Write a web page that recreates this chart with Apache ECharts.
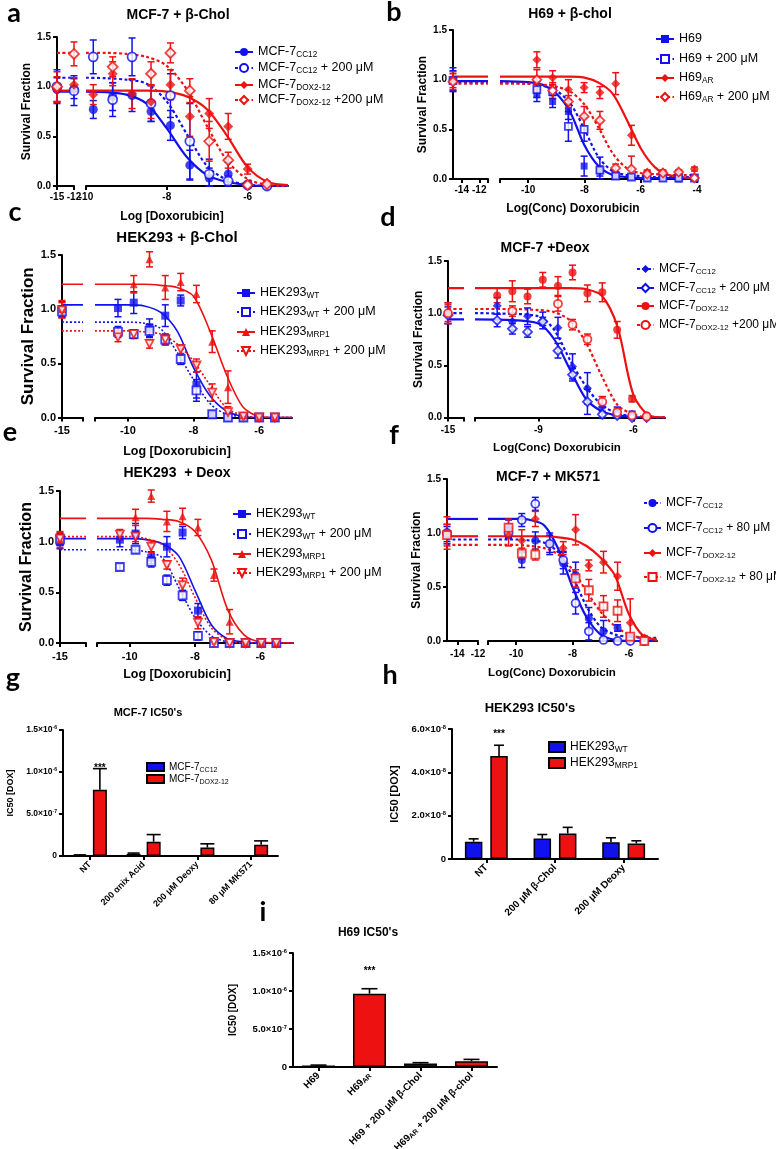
<!DOCTYPE html>
<html>
<head>
<meta charset="utf-8">
<title>Doxorubicin survival curves and IC50 panels</title>
<script src="https://cdn.jsdelivr.net/npm/echarts@6.0.0/dist/echarts.min.js"></script>
<style>
  body { margin: 0; background: #fff; }
  #page { position: relative; width: 776px; height: 1149px; }
  .layer { position: absolute; left: 0; top: 0; width: 776px; height: 1149px; }
</style>
</head>
<body>
<div id="page"></div>
<script>
// ---------- panel a: MCF-7 + β-Chol (log M doses, survival fraction) ----------
const aDose = [-9.82, -9.34, -8.86, -8.39, -7.91, -7.43, -6.95, -6.48, -6.0, -5.52];
const aCtrlDose = [-15, -12];
const aFitX = [-10, -9.5, -9, -8.5, -8, -7.5, -7, -6.5, -6, -5.5, -5];
const aCC12 = [0.77, 0.9, 0.91, 0.75, 0.61, 0.21, 0.08, 0.12, 0.01, 0.0];
const aCC12Err = [0.09, 0.14, 0.16, 0.1, 0.15, 0.15, 0.1, 0.12, 0.02, 0.01];
const aCC12Ctrl = [0.97, 0.98], aCC12CtrlErr = [0.12, 0.1];
const aCC12Fit = [0.95, 0.945, 0.92, 0.83, 0.58, 0.29, 0.11, 0.04, 0.01, 0.0, 0.0];
const aCC12b = [1.3, 0.87, 1.3, 0.83, 0.91, 0.45, 0.12, 0.05, 0.01, 0.0];
const aCC12bErr = [0.17, 0.17, 0.19, 0.18, 0.22, 0.38, 0.15, 0.05, 0.02, 0.01];
const aCC12bCtrl = [1.0, 0.96], aCC12bCtrlErr = [0.17, 0.15];
const aCC12bFit = [1.09, 1.085, 1.07, 1.03, 0.85, 0.52, 0.2, 0.06, 0.015, 0.0, 0.0];
const aDOX = [0.92, 1.13, 0.93, 0.85, 1.02, 0.7, 0.73, 0.6, 0.17, 0.03];
const aDOXErr = [0.1, 0.12, 0.15, 0.17, 0.15, 0.2, 0.15, 0.13, 0.05, 0.02];
const aDOXCtrl = [0.97, 1.02], aDOXCtrlErr = [0.13, 0.07];
const aDOXFit = [0.96, 0.96, 0.96, 0.96, 0.95, 0.9, 0.77, 0.5, 0.19, 0.04, 0.01];
const aDOXb = [null, 1.2, null, 1.13, 1.34, 0.96, 0.45, 0.26, 0.01, 0.02];
const aDOXbErr = [0, 0.1, 0, 0.12, 0.1, 0.12, 0.2, 0.08, 0.01, 0.01];
const aDOXbCtrl = [1.0, 1.33], aDOXbCtrlErr = [0.15, 0.12];
const aDOXbFit = [1.34, 1.34, 1.33, 1.3, 1.21, 0.97, 0.6, 0.25, 0.07, 0.01, 0.0];

// ---------- panel b: H69 + β-chol ----------
const bDose = [-9.69, -9.13, -8.57, -8.01, -7.45, -6.89, -6.33, -5.77, -5.21, -4.65, -4.09];
const bCtrlDose = [-15];
const bFitX = [-11, -10, -9.5, -9, -8.5, -8, -7.5, -7, -6.5, -6, -5.5, -5, -4];
const bH69 = [0.85, 0.78, 0.68, 0.13, 0.08, 0.04, 0.02, 0.01, 0.01, 0.0, 0.01];
const bH69Err = [0.07, 0.06, 0.08, 0.1, 0.05, 0.02, 0.01, 0.01, 0.01, 0.01, 0.01];
const bH69Ctrl = [1.0], bH69CtrlErr = [0.12];
const bH69Fit = [0.985, 0.975, 0.95, 0.86, 0.67, 0.34, 0.13, 0.04, 0.02, 0.01, 0.01, 0.01, 0.01];
const bH69b = [0.9, 0.88, 0.53, 0.5, 0.09, 0.03, 0.02, 0.01, 0.01, 0.01, 0.01];
const bH69bErr = [0.08, 0.07, 0.15, 0.12, 0.13, 0.03, 0.01, 0.01, 0.01, 0.01, 0.01];
const bH69bCtrl = [0.99], bH69bCtrlErr = [0.1];
const bH69bFit = [0.97, 0.96, 0.94, 0.89, 0.76, 0.5, 0.22, 0.08, 0.04, 0.03, 0.02, 0.02, 0.02];
const bAR = [1.2, 1.02, 0.9, 0.92, 0.87, 0.96, 0.44, 0.07, 0.07, 0.07, 0.1];
const bARErr = [0.08, 0.07, 0.1, 0.05, 0.06, 0.11, 0.1, 0.02, 0.02, 0.02, 0.02];
const bARCtrl = [1.0], bARCtrlErr = [0.08];
const bARFit = [1.03, 1.03, 1.03, 1.03, 1.03, 1.02, 0.97, 0.86, 0.6, 0.31, 0.12, 0.04, 0.005];
const bARb = [1.0, 0.89, 0.78, 0.63, 0.59, 0.11, 0.1, 0.05, 0.06, 0.07, 0.01];
const bARbErr = [0.1, 0.08, 0.06, 0.1, 0.09, 0.04, 0.13, 0.03, 0.02, 0.02, 0.01];
const bARbCtrl = [0.98], bARbCtrlErr = [0.08];
const bARbFit = [0.96, 0.96, 0.95, 0.93, 0.88, 0.75, 0.52, 0.26, 0.11, 0.06, 0.05, 0.04, 0.04];

// ---------- panel c: HEK293 + β-Chol ----------
const cDose = [-10.3, -9.82, -9.34, -8.86, -8.39, -7.91, -7.43, -6.95, -6.48, -6.0, -5.52];
const cCtrlDose = [-15];
const cFitX = [-11, -10, -9.5, -9, -8.5, -8, -7.5, -7, -6.5, -6, -5.5, -5];
const cWT = [1.01, 1.06, 0.83, 0.94, 1.08, 0.3, 0.03, 0.0, 0.0, 0.0, 0.0];
const cWTErr = [0.08, 0.1, 0.08, 0.1, 0.05, 0.12, 0.02, 0.01, 0.01, 0.01, 0.01];
const cWTCtrl = [1.0], cWTCtrlErr = [0.07];
const cWTFit = [1.04, 1.04, 1.03, 0.97, 0.8, 0.46, 0.2, 0.06, 0.01, 0.0, 0.0, 0.0];
const cWTb = [0.79, 0.77, 0.8, 0.72, 0.54, 0.25, 0.03, 0.0, 0.0, 0.0, 0.0];
const cWTbErr = [0.05, 0.04, 0.06, 0.05, 0.05, 0.1, 0.02, 0.01, 0.01, 0.01, 0.01];
const cWTbCtrl = [0.98], cWTbCtrlErr = [0.05];
const cWTbFit = [0.88, 0.88, 0.87, 0.82, 0.6, 0.35, 0.13, 0.03, 0.01, 0.0, 0.0, 0.0];
const cMRP1 = [null, 1.23, 1.46, 1.2, 1.25, 1.14, 0.7, 0.28, 0.02, 0.0, 0.0];
const cMRP1Err = [0, 0.08, 0.07, 0.11, 0.08, 0.08, 0.1, 0.15, 0.02, 0.01, 0.01];
const cMRP1Ctrl = [1.0], cMRP1CtrlErr = [0.08];
const cMRP1Fit = [1.23, 1.23, 1.23, 1.22, 1.2, 1.12, 0.8, 0.4, 0.1, 0.01, 0.0, 0.0];
const cMRP1b = [0.74, 0.77, 0.68, 0.72, 0.63, 0.48, 0.23, 0.05, 0.01, 0.0, 0.0];
const cMRP1bErr = [0.04, 0.04, 0.04, 0.05, 0.04, 0.06, 0.08, 0.05, 0.02, 0.01, 0.01];
const cMRP1bCtrl = [0.99], cMRP1bCtrlErr = [0.07];
const cMRP1bFit = [0.8, 0.8, 0.79, 0.77, 0.68, 0.52, 0.3, 0.09, 0.02, 0.0, 0.0, 0.0];

// ---------- panel d: MCF-7 + Deox ----------
const dDose = [-10.3, -9.82, -9.34, -8.86, -8.38, -7.92, -7.45, -6.98, -6.51, -6.04, -5.58];
const dCtrlDose = [-15];
const dFitX = [-11, -10, -9, -8.5, -8, -7.5, -7, -6.5, -6, -5.5, -5];
const dCC12 = [1.07, 0.92, 0.97, 0.93, 0.86, 0.49, 0.28, 0.1, 0.05, 0.03, 0.01];
const dCC12Err = [0.08, 0.08, 0.08, 0.08, 0.1, 0.12, 0.15, 0.1, 0.05, 0.03, 0.02];
const dCC12Ctrl = [1.0], dCC12CtrlErr = [0.1];
const dCC12Fit = [1.0, 0.995, 0.97, 0.84, 0.55, 0.3, 0.12, 0.04, 0.01, 0.0, 0.0];
const dCC12b = [0.93, 0.85, 0.82, 0.92, 0.64, 0.41, 0.15, 0.03, 0.02, 0.0, 0.0];
const dCC12bErr = [0.06, 0.05, 0.05, 0.04, 0.07, 0.06, 0.12, 0.03, 0.02, 0.01, 0.01];
const dCC12bCtrl = [0.98], dCC12bCtrlErr = [0.08];
const dCC12bFit = [0.94, 0.935, 0.9, 0.75, 0.46, 0.18, 0.06, 0.02, 0.005, 0.0, 0.0];
const dDOX = [1.17, 1.21, 1.16, 1.32, 1.26, 1.39, 1.19, 1.2, 0.84, 0.18, 0.02];
const dDOXErr = [0.07, 0.1, 0.07, 0.07, 0.09, 0.07, 0.08, 0.09, 0.08, 0.03, 0.01];
const dDOXCtrl = [1.0], dDOXCtrlErr = [0.1];
const dDOXFit = [1.24, 1.24, 1.24, 1.24, 1.24, 1.23, 1.17, 0.87, 0.22, 0.02, 0.0];
const dDOXb = [null, 1.02, null, null, 1.09, 0.89, 0.75, 0.15, 0.05, 0.02, 0.01];
const dDOXbErr = [0, 0.05, 0, 0, 0.07, 0.05, 0.05, 0.05, 0.03, 0.01, 0.01];
const dDOXbCtrl = [1.0], dDOXbCtrlErr = [0.08];
const dDOXbFit = [1.04, 1.04, 1.03, 1.01, 0.93, 0.72, 0.4, 0.12, 0.03, 0.0, 0.0];

// ---------- panel e: HEK293 + Deox ----------
const eDose = [-10.3, -9.82, -9.34, -8.86, -8.38, -7.91, -7.42, -6.94, -6.45, -5.97, -5.51];
const eCtrlDose = [-15];
const eFitX = [-11, -10, -9.5, -9, -8.5, -8, -7.5, -7, -6.5, -6, -5];
const eWT = [1.02, 1.08, 0.84, 0.95, 1.09, 0.32, 0.02, 0.0, 0.0, 0.0, 0.0];
const eWTErr = [0.07, 0.1, 0.06, 0.1, 0.06, 0.07, 0.02, 0.01, 0.01, 0.01, 0.01];
const eWTCtrl = [1.0], eWTCtrlErr = [0.07];
const eWTFit = [1.03, 1.03, 1.02, 0.98, 0.86, 0.52, 0.18, 0.04, 0.01, 0.0, 0.0];
const eWTb = [0.75, 0.92, 0.8, 0.62, 0.47, 0.07, 0.0, 0.0, 0.0, 0.0, 0.0];
const eWTbErr = [0.03, 0.03, 0.05, 0.05, 0.05, 0.04, 0.01, 0.01, 0.01, 0.01, 0.01];
const eWTbCtrl = [1.02], eWTbCtrlErr = [0.06];
const eWTbFit = [0.92, 0.92, 0.9, 0.84, 0.55, 0.25, 0.07, 0.01, 0.0, 0.0, 0.0];
const eMRP1 = [null, 1.24, 1.45, 1.2, 1.25, 1.14, 0.67, 0.21, 0.0, 0.0, 0.0];
const eMRP1Err = [0, 0.08, 0.06, 0.1, 0.08, 0.08, 0.06, 0.12, 0.01, 0.01, 0.01];
const eMRP1Ctrl = [1.02], eMRP1CtrlErr = [0.08];
const eMRP1Fit = [1.23, 1.23, 1.23, 1.22, 1.2, 1.1, 0.82, 0.33, 0.08, 0.01, 0.0];
const eMRP1b = [1.07, 1.05, 0.95, 0.77, 0.57, 0.2, 0.01, 0.0, 0.0, 0.0, 0.0];
const eMRP1bErr = [0.05, 0.05, 0.06, 0.04, 0.07, 0.06, 0.01, 0.01, 0.01, 0.01, 0.01];
const eMRP1bCtrl = [1.03], eMRP1bCtrlErr = [0.06];
const eMRP1bFit = [1.05, 1.05, 1.03, 0.97, 0.78, 0.45, 0.15, 0.03, 0.0, 0.0, 0.0];

// ---------- panel f: MCF-7 + MK571 ----------
const fDose = [-10.27, -9.8, -9.32, -8.81, -8.33, -7.89, -7.42, -6.9, -6.4, -5.95, -5.45];
const fCtrlDose = [-15];
const fFitX = [-11, -10, -9.5, -9, -8.5, -8, -7.5, -7, -6.5, -6, -5.5, -5];
const fCC12 = [1.04, 0.75, 0.93, 0.9, 0.72, 0.61, 0.21, 0.09, 0.12, 0.02, 0.01];
const fCC12Err = [0.08, 0.07, 0.08, 0.1, 0.1, 0.12, 0.1, 0.1, 0.03, 0.02, 0.01];
const fCC12Ctrl = [0.98], fCC12CtrlErr = [0.08];
const fCC12Fit = [0.94, 0.94, 0.93, 0.91, 0.82, 0.6, 0.32, 0.13, 0.06, 0.04, 0.03, 0.03];
const fCC12b = [1.0, 1.12, 1.27, 0.9, 0.75, 0.35, 0.09, 0.01, 0.0, 0.0, 0.0];
const fCC12bErr = [0.05, 0.06, 0.06, 0.08, 0.08, 0.1, 0.08, 0.02, 0.01, 0.01, 0.01];
const fCC12bCtrl = [1.0], fCC12bCtrlErr = [0.08];
const fCC12bFit = [1.13, 1.13, 1.12, 1.07, 0.85, 0.5, 0.22, 0.06, 0.01, 0.0, 0.0, 0.0];
const fDOX = [0.98, 0.93, 1.13, null, 0.86, 1.03, 0.7, 0.73, 0.6, 0.17, 0.03];
const fDOXErr = [0.1, 0.1, 0.07, 0, 0.06, 0.14, 0.05, 0.1, 0.13, 0.22, 0.02];
const fDOXCtrl = [1.0], fDOXCtrlErr = [0.15];
const fDOXFit = [0.97, 0.97, 0.97, 0.97, 0.96, 0.94, 0.88, 0.77, 0.61, 0.25, 0.05, 0.01];
const fDOXb = [1.05, 0.81, 0.8, null, null, 0.58, 0.47, 0.32, 0.28, 0.04, 0.0];
const fDOXbErr = [0.08, 0.05, 0.05, 0, 0, 0.08, 0.1, 0.1, 0.1, 0.02, 0.01];
const fDOXbCtrl = [0.98], fDOXbCtrlErr = [0.1];
const fDOXbFit = [0.89, 0.89, 0.88, 0.86, 0.8, 0.66, 0.46, 0.27, 0.14, 0.06, 0.03, 0.02];

// ---------- panels g, h, i: IC50 bars (M) ----------
const gCats = ['NT', '200 \u03b1nix Acid', '200 \u03bcM Deoxy', '80 \u03bcM MK571'];
const gCC12 = [1.0e-8, 2.5e-8, 5e-9, 5e-9];
const gCC12Err = [3e-9, 1e-8, 0, 0];
const gDOX = [7.9e-7, 1.7e-7, 1.0e-7, 1.35e-7];
const gDOXErr = [2.5e-7, 0.85e-7, 0.45e-7, 0.45e-7];
const gStars = ['***', '', '', ''];

const hCats = ['NT', '200 \u03bcM \u03b2-Chol', '200 \u03bcM Deoxy'];
const hWT = [0.8e-8, 0.95e-8, 0.77e-8];
const hWTErr = [0.13e-8, 0.18e-8, 0.21e-8];
const hMRP1 = [4.75e-8, 1.18e-8, 0.72e-8];
const hMRP1Err = [0.5e-8, 0.28e-8, 0.12e-8];
const hStars = ['***', '', ''];

const iCats = ['H69', 'H69{s|AR}', 'H69 + 200 \u03bcM \u03b2-Chol', 'H69{s|AR} + 200 \u03bcM \u03b2-chol'];
const iVal = [2.0e-8, 9.65e-7, 4.5e-8, 7.5e-8];
const iErr = [5e-9, 6.5e-8, 1.2e-8, 2.5e-8];
const iStars = ['', '***', '', ''];

// ---------- drawing ----------
const BLUE = '#1111ee', RED = '#ee1111', INK = '#000';
const ARIAL = '"Liberation Sans", Arial, Helvetica, sans-serif';
const LETTER = 'bold 27px Lato, "Open Sans", sans-serif';

function mount() {
  const d = document.createElement('div');
  d.className = 'layer';
  document.getElementById('page').appendChild(d);
  return echarts.init(d);
}

function pts(xs, ys, es) {
  const out = [];
  xs.forEach((x, i) => { if (ys[i] != null) out.push([x, ys[i], es[i]]); });
  return out;
}

function texts(list) {
  return list.map(t => ({
    type: 'text', x: t[0], y: t[1], silent: true,
    style: { text: t[2], font: t[3], fill: INK, align: 'center', verticalAlign: 'middle' }
  }));
}

function errRender(cap) {
  return (params, api) => {
    const x = api.value(0), y = api.value(1), e = api.value(2);
    const hi = api.coord([x, y + e]);
    const lo = api.coord([x, Math.max(0, y - e)]);
    const st = { stroke: api.visual('color'), lineWidth: 1.5 };
    return { type: 'group', children: [
      { type: 'line', shape: { x1: lo[0], y1: lo[1], x2: hi[0], y2: hi[1] }, style: st },
      { type: 'line', shape: { x1: hi[0] - cap, y1: hi[1], x2: hi[0] + cap, y2: hi[1] }, style: st },
      { type: 'line', shape: { x1: lo[0] - cap, y1: lo[1], x2: lo[0] + cap, y2: lo[1] }, style: st }
    ] };
  };
}

function legendRows(L, names, rich) {
  return names.map((n, i) => ({
    data: [n], left: L.legX, top: L.legY[i] - 7, padding: 0, itemGap: 0,
    itemWidth: L.legW, itemHeight: L.legH || 10, selectedMode: false, icon: L.legIcon,
    formatter: v => v,
    textStyle: { color: INK, fontFamily: ARIAL, fontSize: L.legFont, lineHeight: 14, rich: rich }
  }));
}

function subRich(size) {
  return { s: { fontSize: size, fontFamily: ARIAL, color: INK, lineHeight: 8, verticalAlign: 'bottom' } };
}

function xAxisOf(g, ax, L) {
  return {
    gridIndex: g, type: 'value', min: ax.min, max: ax.max,
    axisLine: { show: true, onZero: false, lineStyle: { color: INK, width: 2 } },
    axisTick: { show: true, inside: false, length: 4, lineStyle: { color: INK, width: 2 }, customValues: ax.ticks },
    axisLabel: { show: true, customValues: ax.labels, formatter: v => String(v), color: INK,
      fontFamily: ARIAL, fontWeight: 'bold', fontSize: L.tf, margin: L.xm },
    splitLine: { show: false }
  };
}

function dosePanel(L, dose, ctrlDose, fitX, sets) {
  const chart = mount();
  const series = [];
  sets.forEach(s => {
    const item = s.open ? { color: '#fff', borderColor: s.color, borderWidth: 1.8 } : { color: s.color };
    const line = {
      type: 'line', smooth: 0.3, showSymbol: false, symbol: s.symbol, symbolRotate: s.rot || 0,
      silent: true, z: 2, itemStyle: item,
      lineStyle: { color: s.color, width: L.lw, type: s.dash ? L.dash : 'solid' }
    };
    series.push(Object.assign({}, line, { name: s.name, xAxisIndex: 1, yAxisIndex: 1,
      data: fitX.map((x, i) => [x, s.fit[i]]) }));
    series.push(Object.assign({}, line, { xAxisIndex: 0, yAxisIndex: 0,
      data: [[L.xl.min, s.fit[0]], [L.xl.max, s.fit[0]]] }));
    [[0, ctrlDose, s.ctrl, s.ctrlErr], [1, dose, s.y, s.err]].forEach(([g, xs, ys, es]) => {
      const d = pts(xs, ys, es);
      series.push({ type: 'custom', xAxisIndex: g, yAxisIndex: g, silent: true, z: 3,
        itemStyle: { color: s.color }, encode: { x: 0, y: 1 }, data: d, renderItem: errRender(L.cap) });
      series.push({ type: 'scatter', xAxisIndex: g, yAxisIndex: g, silent: true, z: 4,
        symbol: s.symbol, symbolRotate: s.rot || 0, symbolSize: s.size,
        itemStyle: item, data: d.map(p => [p[0], p[1]]) });
    });
  });
  chart.setOption({
    animation: false,
    grid: [
      { left: L.xl.left, width: L.xl.width, top: L.top, height: L.h, containLabel: false, outerBoundsMode: 'none' },
      { left: L.xr.left, width: L.xr.width, top: L.top, height: L.h, containLabel: false, outerBoundsMode: 'none' }
    ],
    xAxis: [xAxisOf(0, L.xl, L), xAxisOf(1, L.xr, L)],
    yAxis: [{
      gridIndex: 0, type: 'value', min: 0, max: 1.5, interval: 0.5,
      axisLine: { show: true, lineStyle: { color: INK, width: 2 } },
      axisTick: { show: true, length: 4, lineStyle: { color: INK, width: 2 } },
      axisLabel: { color: INK, fontFamily: ARIAL, fontWeight: 'bold', fontSize: L.tf, margin: 6,
        formatter: v => v.toFixed(1) },
      splitLine: { show: false },
      name: 'Survival Fraction', nameLocation: 'middle', nameGap: L.yGap,
      nameTextStyle: { color: INK, fontFamily: ARIAL, fontWeight: 'bold', fontSize: L.yf }
    }, { gridIndex: 1, type: 'value', min: 0, max: 1.5, show: false }],
    legend: legendRows(L, sets.map(s => s.name), subRich(L.legFont * 0.66)),
    graphic: texts(L.texts),
    series: series
  });
}

function sci(v) {
  if (v === 0) return '0';
  const e = Math.floor(Math.log10(v) + 1e-9);
  return (v / Math.pow(10, e)).toFixed(1) + '\u00d710{p|' + e + '}';
}

function barErr(vals, errs, off, cap, stars, starGap) {
  return {
    type: 'custom', silent: true, z: 5, encode: { x: 0, y: 1 },
    data: vals.map((v, i) => [i, v, errs[i]]),
    renderItem: (params, api) => {
      const c = api.value(0), v = api.value(1), e = api.value(2);
      const base = api.coord([c, v]), top = api.coord([c, v + e]);
      const x = base[0] + off;
      const st = { stroke: INK, lineWidth: 1.6 };
      const kids = [];
      if (e > 0) {
        kids.push({ type: 'line', shape: { x1: x, y1: base[1], x2: x, y2: top[1] }, style: st });
        kids.push({ type: 'line', shape: { x1: x - cap, y1: top[1], x2: x + cap, y2: top[1] }, style: st });
      }
      const star = stars[params.dataIndex];
      if (star) {
        kids.push({ type: 'text', x: x, y: top[1] - starGap,
          style: { text: star, font: 'bold 10px ' + ARIAL, fill: INK, align: 'center', verticalAlign: 'bottom' } });
      }
      return { type: 'group', children: kids };
    }
  };
}

function barPanel(L, cats, bars, errs, legendNames) {
  const chart = mount();
  const option = {
    animation: false,
    grid: { left: L.left, top: L.top, width: L.width, height: L.h, containLabel: false, outerBoundsMode: 'none' },
    xAxis: {
      type: 'category', data: cats,
      axisLine: { show: true, lineStyle: { color: INK, width: 2 } },
      axisTick: { show: true, alignWithLabel: true, length: 4, lineStyle: { color: INK, width: 2 } },
      axisLabel: { rotate: 45, interval: 0, color: INK, fontFamily: ARIAL, fontWeight: 'bold',
        fontSize: L.xf, margin: 7, rich: subRich(L.xf * 0.7) }
    },
    yAxis: {
      type: 'value', min: 0, max: L.max, interval: L.step,
      axisLine: { show: true, lineStyle: { color: INK, width: 2 } },
      axisTick: { show: true, length: 4, lineStyle: { color: INK, width: 2 } },
      axisLabel: { color: INK, fontFamily: ARIAL, fontWeight: 'bold', fontSize: L.tf, margin: 6, formatter: sci,
        rich: { p: { fontSize: L.tf * 0.6, fontFamily: ARIAL, fontWeight: 'bold', color: INK, lineHeight: 5, verticalAlign: 'top' } } },
      splitLine: { show: false },
      name: 'IC50 [DOX]', nameLocation: 'middle', nameGap: L.yGap,
      nameTextStyle: { color: INK, fontFamily: ARIAL, fontWeight: 'bold', fontSize: L.yf }
    },
    graphic: texts(L.texts),
    series: bars.concat(errs)
  };
  if (legendNames) option.legend = legendRows(L, legendNames, subRich(L.legFont * 0.7));
  chart.setOption(option);
}

// panel a
dosePanel({
  top: 37, h: 149, tf: 10, xm: 6, yf: 12, yGap: 24, lw: 2.2, dash: [3, 2.5], cap: 3.5,
  xl: { left: 57, width: 17, min: -15, max: -12, ticks: [-15, -12], labels: [-15, -12] },
  xr: { left: 86, width: 202, min: -10, max: -5, ticks: [-10, -8, -6], labels: [-10, -8, -6] },
  legX: 234, legW: 18, legFont: 12.5, legY: [52, 68, 85, 100],
  texts: [[14, 13, 'a', LETTER], [178, 15, 'MCF-7 + \u03b2-Chol', 'bold 14px ' + ARIAL],
          [172, 217, 'Log [Doxorubicin]', 'bold 12px ' + ARIAL]]
}, aDose, aCtrlDose, aFitX, [
  { name: 'MCF-7{s|CC12}', color: BLUE, symbol: 'circle', size: 9, y: aCC12, err: aCC12Err, ctrl: aCC12Ctrl, ctrlErr: aCC12CtrlErr, fit: aCC12Fit },
  { name: 'MCF-7{s|CC12} + 200 \u03bcM', color: BLUE, symbol: 'circle', size: 9, open: true, dash: true, y: aCC12b, err: aCC12bErr, ctrl: aCC12bCtrl, ctrlErr: aCC12bCtrlErr, fit: aCC12bFit },
  { name: 'MCF-7{s|DOX2-12}', color: RED, symbol: 'diamond', size: 10, y: aDOX, err: aDOXErr, ctrl: aDOXCtrl, ctrlErr: aDOXCtrlErr, fit: aDOXFit },
  { name: 'MCF-7{s|DOX2-12} +200 \u03bcM', color: RED, symbol: 'diamond', size: 10, open: true, dash: true, y: aDOXb, err: aDOXbErr, ctrl: aDOXbCtrl, ctrlErr: aDOXbCtrlErr, fit: aDOXbFit }
]);

// panel b
dosePanel({
  top: 30, h: 149, tf: 10, xm: 6, yf: 12, yGap: 24, lw: 2.2, dash: [3, 2.5], cap: 3.5,
  xl: { left: 453, width: 35, min: -15, max: -11, ticks: [-14, -12, -11], labels: [-14, -12] },
  xr: { left: 500, width: 197, min: -11, max: -4, ticks: [-11, -10, -8, -6, -4], labels: [-10, -8, -6, -4] },
  legX: 655, legW: 18, legFont: 12.5, legY: [39, 59, 78, 97],
  texts: [[394, 12, 'b', LETTER], [570, 14, 'H69 + \u03b2-chol', 'bold 14px ' + ARIAL],
          [573, 209, 'Log(Conc) Doxorubicin', 'bold 12px ' + ARIAL]]
}, bDose, bCtrlDose, bFitX, [
  { name: 'H69', color: BLUE, symbol: 'rect', size: 7, y: bH69, err: bH69Err, ctrl: bH69Ctrl, ctrlErr: bH69CtrlErr, fit: bH69Fit },
  { name: 'H69 + 200 \u03bcM', color: BLUE, symbol: 'rect', size: 7, open: true, dash: true, y: bH69b, err: bH69bErr, ctrl: bH69bCtrl, ctrlErr: bH69bCtrlErr, fit: bH69bFit },
  { name: 'H69{s|AR}', color: RED, symbol: 'diamond', size: 9, y: bAR, err: bARErr, ctrl: bARCtrl, ctrlErr: bARCtrlErr, fit: bARFit },
  { name: 'H69{s|AR} + 200 \u03bcM', color: RED, symbol: 'diamond', size: 9, open: true, dash: true, y: bARb, err: bARbErr, ctrl: bARbCtrl, ctrlErr: bARbCtrlErr, fit: bARbFit }
]);

// panel c
dosePanel({
  top: 255, h: 162.5, tf: 11, xm: 8, yf: 17, yGap: 24, lw: 1.6, dash: [2, 2], cap: 3.5,
  xl: { left: 62, width: 21, min: -15, max: -14.36, ticks: [-15, -14.36], labels: [-15] },
  xr: { left: 95, width: 197, min: -11, max: -5, ticks: [-11, -10, -8, -6], labels: [-10, -8, -6] },
  legX: 236, legW: 18, legFont: 12.5, legY: [293, 312, 332, 351],
  texts: [[15, 212, 'c', LETTER], [177, 238, 'HEK293 + \u03b2-Chol', 'bold 15px ' + ARIAL],
          [177, 452, 'Log [Doxorubicin]', 'bold 12.5px ' + ARIAL]]
}, cDose, cCtrlDose, cFitX, [
  { name: 'HEK293{s|WT}', color: BLUE, symbol: 'rect', size: 8, y: cWT, err: cWTErr, ctrl: cWTCtrl, ctrlErr: cWTCtrlErr, fit: cWTFit },
  { name: 'HEK293{s|WT} + 200 \u03bcM', color: BLUE, symbol: 'rect', size: 8, open: true, dash: true, y: cWTb, err: cWTbErr, ctrl: cWTbCtrl, ctrlErr: cWTbCtrlErr, fit: cWTbFit },
  { name: 'HEK293{s|MRP1}', color: RED, symbol: 'triangle', size: 8, y: cMRP1, err: cMRP1Err, ctrl: cMRP1Ctrl, ctrlErr: cMRP1CtrlErr, fit: cMRP1Fit },
  { name: 'HEK293{s|MRP1} + 200 \u03bcM', color: RED, symbol: 'triangle', rot: 180, size: 8, open: true, dash: true, y: cMRP1b, err: cMRP1bErr, ctrl: cMRP1bCtrl, ctrlErr: cMRP1bCtrlErr, fit: cMRP1bFit }
]);

// panel d
dosePanel({
  top: 261, h: 156.5, tf: 10, xm: 8, yf: 12, yGap: 23, lw: 2.2, dash: [3, 2.5], cap: 3.5,
  xl: { left: 448, width: 16, min: -15, max: -14.5, ticks: [-15, -14.5], labels: [-15] },
  xr: { left: 475, width: 190, min: -11, max: -5, ticks: [-11, -9, -6], labels: [-9, -6] },
  legX: 636, legW: 17, legFont: 12, legY: [269, 288, 306, 325],
  texts: [[388, 217, 'd', LETTER], [545, 248, 'MCF-7 +Deox', 'bold 14px ' + ARIAL],
          [557, 448, 'Log(Conc) Doxorubicin', 'bold 11.5px ' + ARIAL]]
}, dDose, dCtrlDose, dFitX, [
  { name: 'MCF-7{s|CC12}', color: BLUE, symbol: 'diamond', size: 9, dash: true, y: dCC12, err: dCC12Err, ctrl: dCC12Ctrl, ctrlErr: dCC12CtrlErr, fit: dCC12Fit },
  { name: 'MCF-7{s|CC12} + 200 \u03bcM', color: BLUE, symbol: 'diamond', size: 9, open: true, y: dCC12b, err: dCC12bErr, ctrl: dCC12bCtrl, ctrlErr: dCC12bCtrlErr, fit: dCC12bFit },
  { name: 'MCF-7{s|DOX2-12}', color: RED, symbol: 'circle', size: 8, y: dDOX, err: dDOXErr, ctrl: dDOXCtrl, ctrlErr: dDOXCtrlErr, fit: dDOXFit },
  { name: 'MCF-7{s|DOX2-12} +200 \u03bcM', color: RED, symbol: 'circle', size: 8, open: true, dash: true, y: dDOXb, err: dDOXbErr, ctrl: dDOXbCtrl, ctrlErr: dDOXbCtrlErr, fit: dDOXbFit }
]);

// panel e
dosePanel({
  top: 491, h: 152, tf: 11, xm: 8, yf: 16, yGap: 25, lw: 1.6, dash: [2, 2], cap: 3.5,
  xl: { left: 60, width: 26, min: -15, max: -14.2, ticks: [-15, -14.2], labels: [-15] },
  xr: { left: 97, width: 196, min: -11, max: -5, ticks: [-11, -10, -8, -6], labels: [-10, -8, -6] },
  legX: 232, legW: 18, legFont: 12.5, legY: [514, 534, 554, 573],
  texts: [[10, 432, 'e', LETTER], [177, 473, 'HEK293  + Deox', 'bold 14px ' + ARIAL],
          [177, 675, 'Log [Doxorubicin]', 'bold 12.5px ' + ARIAL]]
}, eDose, eCtrlDose, eFitX, [
  { name: 'HEK293{s|WT}', color: BLUE, symbol: 'rect', size: 8, y: eWT, err: eWTErr, ctrl: eWTCtrl, ctrlErr: eWTCtrlErr, fit: eWTFit },
  { name: 'HEK293{s|WT} + 200 \u03bcM', color: BLUE, symbol: 'rect', size: 8, open: true, dash: true, y: eWTb, err: eWTbErr, ctrl: eWTbCtrl, ctrlErr: eWTbCtrlErr, fit: eWTbFit },
  { name: 'HEK293{s|MRP1}', color: RED, symbol: 'triangle', size: 8, y: eMRP1, err: eMRP1Err, ctrl: eMRP1Ctrl, ctrlErr: eMRP1CtrlErr, fit: eMRP1Fit },
  { name: 'HEK293{s|MRP1} + 200 \u03bcM', color: RED, symbol: 'triangle', rot: 180, size: 8, open: true, dash: true, y: eMRP1b, err: eMRP1bErr, ctrl: eMRP1bCtrl, ctrlErr: eMRP1bCtrlErr, fit: eMRP1bFit }
]);

// panel f
dosePanel({
  top: 479, h: 162, tf: 10, xm: 8, yf: 12, yGap: 24, lw: 2.2, dash: [3, 2.5], cap: 3.5,
  xl: { left: 447, width: 31, min: -15, max: -12, ticks: [-14, -12], labels: [-14, -12] },
  xr: { left: 488, width: 169, min: -11, max: -5, ticks: [-11, -10, -8, -6], labels: [-10, -8, -6] },
  legX: 643, legW: 17, legFont: 12, legY: [503, 528, 553, 577],
  texts: [[394, 435, 'f', LETTER], [548, 477, 'MCF-7 + MK571', 'bold 14px ' + ARIAL],
          [552, 673, 'Log(Conc) Doxorubicin', 'bold 11.5px ' + ARIAL]]
}, fDose, fCtrlDose, fFitX, [
  { name: 'MCF-7{s|CC12}', color: BLUE, symbol: 'circle', size: 8, dash: true, y: fCC12, err: fCC12Err, ctrl: fCC12Ctrl, ctrlErr: fCC12CtrlErr, fit: fCC12Fit },
  { name: 'MCF-7{s|CC12} + 80 \u03bcM', color: BLUE, symbol: 'circle', size: 8, open: true, y: fCC12b, err: fCC12bErr, ctrl: fCC12bCtrl, ctrlErr: fCC12bCtrlErr, fit: fCC12bFit },
  { name: 'MCF-7{s|DOX2-12}', color: RED, symbol: 'diamond', size: 9, y: fDOX, err: fDOXErr, ctrl: fDOXCtrl, ctrlErr: fDOXCtrlErr, fit: fDOXFit },
  { name: 'MCF-7{s|DOX2-12} + 80 \u03bcM', color: RED, symbol: 'rect', size: 8, open: true, dash: true, y: fDOXb, err: fDOXbErr, ctrl: fDOXbCtrl, ctrlErr: fDOXbCtrlErr, fit: fDOXbFit }
]);

// panel g
barPanel({
  left: 63, top: 730, width: 215, h: 126, max: 1.5e-6, step: 5e-7, tf: 8.5, xf: 9, yf: 9, yGap: 48,
  legX: 146, legW: 17, legH: 8, legFont: 10, legY: [767, 779], legIcon: 'rect',
  texts: [[13, 678, 'g', LETTER], [148, 713, "MCF-7 IC50's", 'bold 11px ' + ARIAL]]
}, gCats, [
  { type: 'bar', name: 'MCF-7{s|CC12}', data: gCC12, barWidth: 14, barGap: '43%',
    itemStyle: { color: BLUE, borderColor: INK, borderWidth: 1.5 } },
  { type: 'bar', name: 'MCF-7{s|DOX2-12}', data: gDOX, barWidth: 14, barGap: '43%',
    itemStyle: { color: RED, borderColor: INK, borderWidth: 1.5 } }
], [
  barErr(gCC12, gCC12Err, -10, 6, ['', '', '', ''], 0),
  barErr(gDOX, gDOXErr, 10, 7, gStars, -5)
], ['MCF-7{s|CC12}', 'MCF-7{s|DOX2-12}']);

// panel h
barPanel({
  left: 452, top: 729, width: 206, h: 130, max: 6e-8, step: 2e-8, tf: 9.5, xf: 10, yf: 11, yGap: 52,
  legX: 548, legW: 16, legH: 10, legFont: 12, legY: [747, 763], legIcon: 'rect',
  texts: [[390, 675, 'h', LETTER], [530, 708, "HEK293 IC50's", 'bold 13px ' + ARIAL]]
}, hCats, [
  { type: 'bar', name: 'HEK293{s|WT}', data: hWT, barWidth: 17.5, barGap: '45%',
    itemStyle: { color: BLUE, borderColor: INK, borderWidth: 1.5 } },
  { type: 'bar', name: 'HEK293{s|MRP1}', data: hMRP1, barWidth: 17.5, barGap: '45%',
    itemStyle: { color: RED, borderColor: INK, borderWidth: 1.5 } }
], [
  barErr(hWT, hWTErr, -12.7, 5, ['', '', ''], 0),
  barErr(hMRP1, hMRP1Err, 12.7, 5, hStars, 6)
], ['HEK293{s|WT}', 'HEK293{s|MRP1}']);

// panel i
const iColors = [BLUE, RED, BLUE, RED];
barPanel({
  left: 293, top: 953, width: 204, h: 114, max: 1.5e-6, step: 5e-7, tf: 9.5, xf: 10, yf: 10, yGap: 55,
  texts: [[263, 912, 'i', LETTER], [368, 933, "H69 IC50's", 'bold 12px ' + ARIAL]]
}, iCats, [
  { type: 'bar', data: iVal.map((v, k) => ({ value: v, itemStyle: { color: iColors[k] } })), barWidth: 33,
    itemStyle: { borderColor: INK, borderWidth: 1.5 } }
], [
  barErr(iVal, iErr, 0, 8, iStars, 12)
], null);
</script>
</body>
</html>
